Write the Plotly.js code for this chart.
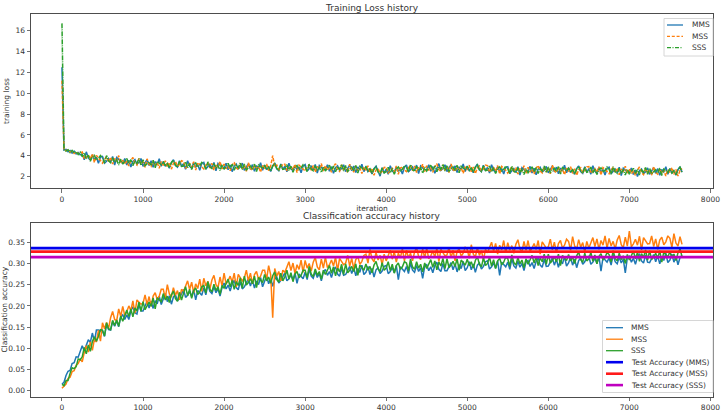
<!DOCTYPE html>
<html>
<head>
<meta charset="utf-8">
<script src="https://cdn.plot.ly/plotly-3.0.1.min.js"></script>
<style>
  html, body { margin: 0; padding: 0; background: #ffffff; }
  #chart { width: 721px; height: 413px; }
</style>
</head>
<body>
<div id="chart"></div>
<script>
// Metrics were logged every ITER_STEP iterations (iteration 0 .. 7650).
const ITER_STEP = 25;

const seriesNames = ['MMS', 'MSS', 'SSS'];

// Training loss per logged iteration
const lossMMS = [
  12.5, 4.55, 4.62, 4.38, 4.50, 4.25, 4.44, 4.18, 4.32, 4.10,
  4.18, 3.61, 4.38, 3.81, 3.60, 4.10, 3.62, 3.86, 3.28, 3.88,
  3.93, 3.30, 3.48, 3.75, 3.39, 3.93, 3.12, 3.84, 3.66, 3.48,
  3.29, 3.74, 3.11, 3.56, 2.93, 3.47, 3.65, 3.20, 3.38, 3.74,
  2.99, 3.35, 3.62, 3.08, 3.53, 2.90, 3.44, 3.17, 3.71, 2.99,
  3.44, 2.99, 3.26, 2.81, 3.35, 3.62, 3.08, 2.90, 3.53, 2.99,
  3.25, 2.71, 3.52, 2.98, 2.80, 3.34, 2.89, 3.16, 2.62, 3.25,
  3.36, 2.73, 2.91, 3.18, 2.82, 3.36, 2.55, 3.27, 3.09, 2.91,
  2.84, 3.29, 2.66, 3.11, 2.48, 3.02, 3.20, 2.75, 2.93, 3.29,
  2.61, 2.97, 3.24, 2.70, 3.15, 2.52, 3.06, 2.79, 3.33, 2.61,
  3.12, 2.67, 2.94, 2.49, 3.03, 3.30, 2.76, 2.58, 3.21, 2.67,
  3.01, 2.47, 3.28, 2.74, 2.56, 3.10, 2.65, 2.92, 2.38, 3.01,
  3.16, 2.53, 2.71, 2.98, 2.62, 3.16, 2.35, 3.07, 2.89, 2.71,
  2.69, 3.14, 2.51, 2.96, 2.33, 2.87, 3.05, 2.60, 2.78, 3.14,
  2.48, 2.84, 3.11, 2.57, 3.02, 2.39, 2.93, 2.66, 3.20, 2.48,
  2.97, 2.50, 2.75, 2.26, 2.76, 3.00, 2.43, 2.05, 2.86, 2.34,
  2.73, 2.22, 3.05, 2.53, 2.37, 2.93, 2.50, 2.79, 2.26, 2.90,
  3.11, 2.48, 2.66, 2.93, 2.57, 3.11, 2.30, 3.02, 2.84, 2.66,
  2.69, 3.14, 2.51, 2.96, 2.33, 2.87, 3.25, 2.60, 2.78, 3.14,
  2.49, 2.85, 3.12, 2.58, 3.03, 2.40, 2.94, 2.67, 3.21, 2.49,
  3.01, 2.56, 2.83, 2.38, 2.92, 3.19, 2.65, 2.47, 3.10, 2.56,
  2.88, 2.34, 3.15, 2.61, 2.43, 2.97, 2.52, 2.79, 2.25, 2.88,
  2.96, 2.33, 2.51, 2.78, 2.42, 2.96, 2.15, 2.87, 2.69, 2.51,
  2.53, 2.98, 2.35, 2.80, 2.17, 2.71, 2.89, 2.44, 2.62, 2.98,
  2.37, 2.73, 3.00, 2.46, 2.91, 2.28, 2.82, 2.55, 3.09, 2.37,
  2.85, 2.40, 2.67, 2.22, 2.76, 3.03, 2.49, 2.31, 2.94, 2.40,
  2.78, 2.24, 3.05, 2.51, 2.33, 2.87, 2.42, 2.69, 2.15, 2.78,
  2.91, 2.28, 2.46, 2.73, 2.37, 2.91, 2.10, 2.82, 2.64, 2.46,
  2.38, 2.83, 2.20, 2.65, 2.02, 2.56, 2.74, 2.29, 2.47, 2.83,
  2.23, 2.59, 2.86, 2.32, 2.77, 2.14, 2.68, 2.41, 2.95, 2.23,
  2.77, 2.32, 2.59, 2.14, 2.68, 2.95, 2.41
];
const lossMSS = [
  11.2, 4.62, 4.48, 4.55, 4.36, 4.47, 4.22, 4.38, 4.20, 4.28,
  4.36, 3.70, 3.84, 4.08, 3.69, 4.19, 3.35, 4.04, 3.82, 3.61,
  3.30, 3.66, 3.93, 3.39, 3.84, 3.21, 3.75, 3.48, 4.02, 3.30,
  3.65, 3.20, 3.47, 3.02, 3.56, 3.83, 3.29, 3.11, 3.74, 3.20,
  3.44, 2.90, 3.71, 3.17, 2.99, 3.53, 3.08, 3.35, 2.81, 3.44,
  3.08, 3.53, 2.90, 3.35, 2.72, 3.26, 3.44, 2.99, 3.17, 3.53,
  3.43, 2.80, 2.98, 3.25, 2.89, 3.43, 2.62, 3.34, 3.16, 2.98,
  2.73, 3.09, 3.36, 2.82, 3.27, 2.64, 3.18, 2.91, 3.45, 2.73,
  3.20, 2.75, 3.02, 2.57, 3.11, 3.38, 2.84, 2.66, 3.29, 2.75,
  3.06, 2.52, 3.33, 2.79, 2.61, 3.15, 2.70, 2.97, 2.43, 3.06,
  2.76, 3.21, 2.58, 3.03, 4.02, 2.94, 3.12, 2.67, 2.85, 3.21,
  3.19, 2.56, 2.74, 3.01, 2.65, 3.19, 2.38, 3.10, 2.92, 2.74,
  2.53, 2.89, 3.16, 2.62, 3.07, 2.44, 2.98, 2.71, 3.25, 2.53,
  3.05, 2.60, 2.87, 2.42, 2.96, 3.23, 2.69, 2.51, 3.14, 2.60,
  2.93, 2.39, 3.20, 2.66, 2.48, 3.02, 2.57, 2.84, 2.30, 2.93,
  2.61, 3.04, 2.39, 2.80, 2.13, 2.64, 2.79, 2.32, 2.50, 2.88,
  2.91, 2.31, 2.51, 2.80, 2.46, 3.02, 2.23, 2.97, 2.80, 2.63,
  2.48, 2.84, 3.11, 2.57, 3.02, 2.39, 2.93, 2.66, 3.20, 2.48,
  3.05, 2.60, 2.87, 2.42, 2.96, 3.23, 2.69, 2.51, 3.14, 2.60,
  2.94, 2.40, 3.21, 2.67, 2.49, 3.03, 2.58, 2.85, 2.31, 2.94,
  2.65, 3.10, 2.47, 2.92, 2.29, 2.83, 3.01, 2.56, 2.74, 3.10,
  3.06, 2.43, 2.61, 2.88, 2.52, 3.06, 2.25, 2.97, 2.79, 2.61,
  2.33, 2.69, 2.96, 2.42, 2.87, 2.24, 2.78, 2.51, 3.05, 2.33,
  2.89, 2.44, 2.71, 2.26, 2.80, 3.07, 2.53, 2.35, 2.98, 2.44,
  2.82, 2.28, 3.09, 2.55, 2.37, 2.91, 2.46, 2.73, 2.19, 2.82,
  2.49, 2.94, 2.31, 2.76, 2.13, 2.67, 2.85, 2.40, 2.58, 2.94,
  2.96, 2.33, 2.51, 2.78, 2.42, 2.96, 2.15, 2.87, 2.69, 2.51,
  2.28, 2.64, 2.91, 2.37, 2.82, 2.19, 2.73, 2.46, 3.00, 2.28,
  2.74, 2.29, 2.56, 2.11, 2.65, 2.92, 2.38, 2.20, 2.83, 2.29,
  2.68, 2.14, 2.95, 2.41, 2.23, 2.77, 2.32, 2.59, 2.05, 2.68,
  2.41, 2.86, 2.23, 2.68, 2.05, 2.59, 2.77
];
const lossSSS = [
  16.7, 4.60, 4.45, 4.58, 4.30, 4.52, 4.28, 4.40, 4.12, 4.35,
  3.92, 4.29, 3.69, 4.06, 3.47, 3.91, 4.04, 3.61, 3.73, 4.02,
  3.81, 3.31, 4.02, 3.52, 3.34, 3.81, 3.39, 3.61, 3.12, 3.66,
  3.21, 3.52, 3.74, 3.25, 3.63, 3.06, 3.52, 3.27, 3.73, 3.08,
  3.62, 3.05, 3.20, 3.43, 3.10, 3.57, 2.84, 3.47, 3.30, 3.14,
  3.44, 3.03, 3.27, 2.87, 3.34, 3.58, 3.09, 2.92, 3.46, 2.98,
  3.02, 3.42, 2.85, 3.25, 2.68, 3.16, 3.31, 2.91, 3.06, 3.37,
  3.19, 2.70, 3.42, 2.94, 2.77, 3.24, 2.84, 3.08, 2.59, 3.14,
  2.71, 3.03, 3.27, 2.78, 3.18, 2.62, 3.09, 2.85, 3.33, 2.68,
  3.22, 2.66, 2.82, 3.05, 2.72, 3.20, 2.49, 3.12, 2.95, 2.79,
  3.09, 2.69, 2.93, 2.53, 3.01, 3.25, 2.77, 2.61, 3.17, 2.69,
  2.75, 3.15, 2.59, 2.99, 2.43, 2.91, 3.07, 2.67, 2.83, 3.15,
  2.96, 2.48, 3.20, 2.72, 2.56, 3.04, 2.64, 2.88, 2.40, 2.96,
  2.54, 2.86, 3.10, 2.62, 3.02, 2.46, 2.94, 2.70, 3.18, 2.54,
  3.07, 2.51, 2.67, 2.91, 2.59, 3.07, 2.35, 2.99, 2.83, 2.67,
  2.94, 2.52, 2.74, 2.30, 2.74, 2.95, 2.44, 2.26, 2.82, 2.36,
  2.47, 2.90, 2.36, 2.78, 2.24, 2.74, 2.92, 2.54, 2.71, 3.04,
  2.91, 2.43, 3.15, 2.67, 2.51, 2.99, 2.59, 2.83, 2.35, 2.91,
  2.54, 2.86, 3.10, 2.62, 3.02, 2.46, 2.94, 2.70, 3.18, 2.54,
  3.08, 2.52, 2.68, 2.92, 2.60, 3.08, 2.36, 3.00, 2.84, 2.68,
  2.98, 2.58, 2.82, 2.42, 2.90, 3.14, 2.66, 2.50, 3.06, 2.58,
  2.62, 3.02, 2.46, 2.86, 2.30, 2.78, 2.94, 2.54, 2.70, 3.02,
  2.76, 2.28, 3.00, 2.52, 2.36, 2.84, 2.44, 2.68, 2.20, 2.76,
  2.38, 2.70, 2.94, 2.46, 2.86, 2.30, 2.78, 2.54, 3.02, 2.38,
  2.96, 2.40, 2.56, 2.80, 2.48, 2.96, 2.24, 2.88, 2.72, 2.56,
  2.82, 2.42, 2.66, 2.26, 2.74, 2.98, 2.50, 2.34, 2.90, 2.42,
  2.52, 2.92, 2.36, 2.76, 2.20, 2.68, 2.84, 2.44, 2.60, 2.92,
  2.71, 2.23, 2.95, 2.47, 2.31, 2.79, 2.39, 2.63, 2.15, 2.71,
  2.23, 2.55, 2.79, 2.31, 2.71, 2.15, 2.63, 2.39, 2.87, 2.23,
  2.82, 2.26, 2.42, 2.66, 2.34, 2.82, 2.10, 2.74, 2.58, 2.42,
  2.74, 2.34, 2.58, 2.18, 2.66, 2.90, 2.42
];

// Training (mini-batch) classification accuracy per logged iteration
const accMMS = [
  0.016, 0.020, 0.036, 0.046, 0.048, 0.064, 0.066, 0.080, 0.079, 0.094,
  0.106, 0.094, 0.105, 0.120, 0.114, 0.136, 0.116, 0.143, 0.143, 0.141,
  0.141, 0.128, 0.157, 0.144, 0.143, 0.163, 0.152, 0.165, 0.151, 0.174,
  0.179, 0.168, 0.179, 0.168, 0.188, 0.198, 0.184, 0.181, 0.203, 0.188,
  0.188, 0.201, 0.211, 0.195, 0.211, 0.194, 0.212, 0.205, 0.223, 0.203,
  0.215, 0.229, 0.210, 0.224, 0.204, 0.221, 0.226, 0.212, 0.218, 0.229,
  0.239, 0.220, 0.225, 0.234, 0.222, 0.239, 0.214, 0.236, 0.231, 0.225,
  0.243, 0.226, 0.251, 0.234, 0.229, 0.245, 0.231, 0.240, 0.223, 0.243,
  0.254, 0.240, 0.249, 0.235, 0.252, 0.260, 0.243, 0.238, 0.257, 0.240,
  0.245, 0.256, 0.264, 0.247, 0.261, 0.242, 0.259, 0.250, 0.267, 0.245,
  0.257, 0.271, 0.252, 0.266, 0.246, 0.263, 0.268, 0.254, 0.260, 0.271,
  0.278, 0.259, 0.264, 0.273, 0.261, 0.278, 0.253, 0.275, 0.270, 0.264,
  0.279, 0.262, 0.287, 0.270, 0.265, 0.281, 0.267, 0.276, 0.259, 0.279,
  0.286, 0.272, 0.281, 0.267, 0.284, 0.292, 0.275, 0.270, 0.289, 0.272,
  0.274, 0.285, 0.293, 0.276, 0.290, 0.271, 0.288, 0.279, 0.296, 0.274,
  0.279, 0.293, 0.274, 0.288, 0.268, 0.285, 0.290, 0.276, 0.282, 0.293,
  0.295, 0.276, 0.281, 0.290, 0.278, 0.295, 0.262, 0.292, 0.287, 0.281,
  0.293, 0.276, 0.301, 0.284, 0.279, 0.295, 0.281, 0.290, 0.265, 0.293,
  0.297, 0.283, 0.292, 0.278, 0.295, 0.303, 0.286, 0.281, 0.300, 0.283,
  0.283, 0.294, 0.302, 0.285, 0.299, 0.280, 0.297, 0.288, 0.305, 0.283,
  0.290, 0.304, 0.285, 0.299, 0.279, 0.296, 0.301, 0.287, 0.293, 0.304,
  0.306, 0.287, 0.292, 0.301, 0.289, 0.306, 0.272, 0.303, 0.298, 0.292,
  0.303, 0.286, 0.311, 0.294, 0.289, 0.305, 0.291, 0.300, 0.283, 0.303,
  0.307, 0.293, 0.302, 0.288, 0.305, 0.313, 0.296, 0.291, 0.310, 0.293,
  0.294, 0.305, 0.313, 0.296, 0.310, 0.291, 0.308, 0.299, 0.316, 0.294,
  0.301, 0.315, 0.296, 0.310, 0.290, 0.307, 0.312, 0.298, 0.304, 0.315,
  0.317, 0.298, 0.303, 0.312, 0.300, 0.317, 0.282, 0.314, 0.309, 0.303,
  0.313, 0.296, 0.321, 0.304, 0.299, 0.315, 0.301, 0.310, 0.278, 0.313,
  0.317, 0.303, 0.312, 0.298, 0.315, 0.323, 0.306, 0.301, 0.320, 0.303,
  0.302, 0.313, 0.321, 0.304, 0.318, 0.299, 0.316, 0.307, 0.324, 0.302,
  0.308, 0.322, 0.303, 0.317, 0.297, 0.314, 0.319
];
const accMSS = [
  0.006, 0.010, 0.016, 0.029, 0.032, 0.045, 0.047, 0.060, 0.064, 0.075,
  0.068, 0.090, 0.106, 0.091, 0.115, 0.095, 0.121, 0.115, 0.142, 0.117,
  0.160, 0.146, 0.161, 0.147, 0.172, 0.187, 0.168, 0.165, 0.193, 0.175,
  0.199, 0.177, 0.186, 0.200, 0.189, 0.212, 0.183, 0.214, 0.210, 0.204,
  0.206, 0.226, 0.203, 0.222, 0.199, 0.223, 0.231, 0.215, 0.223, 0.239,
  0.239, 0.218, 0.250, 0.228, 0.221, 0.243, 0.225, 0.236, 0.214, 0.239,
  0.234, 0.249, 0.259, 0.238, 0.256, 0.231, 0.252, 0.241, 0.263, 0.234,
  0.265, 0.247, 0.258, 0.240, 0.261, 0.272, 0.250, 0.243, 0.268, 0.247,
  0.277, 0.252, 0.259, 0.270, 0.256, 0.277, 0.245, 0.274, 0.267, 0.259,
  0.266, 0.284, 0.259, 0.277, 0.252, 0.274, 0.281, 0.263, 0.270, 0.284,
  0.284, 0.263, 0.295, 0.273, 0.172, 0.288, 0.270, 0.281, 0.259, 0.284,
  0.279, 0.294, 0.304, 0.283, 0.301, 0.276, 0.297, 0.286, 0.308, 0.279,
  0.307, 0.289, 0.300, 0.282, 0.303, 0.314, 0.292, 0.285, 0.310, 0.289,
  0.315, 0.290, 0.297, 0.308, 0.294, 0.315, 0.283, 0.312, 0.305, 0.297,
  0.301, 0.319, 0.294, 0.312, 0.287, 0.309, 0.316, 0.298, 0.305, 0.319,
  0.322, 0.301, 0.333, 0.311, 0.304, 0.326, 0.308, 0.319, 0.297, 0.322,
  0.306, 0.321, 0.331, 0.310, 0.328, 0.303, 0.324, 0.313, 0.335, 0.306,
  0.331, 0.313, 0.324, 0.306, 0.327, 0.338, 0.316, 0.309, 0.334, 0.313,
  0.336, 0.311, 0.318, 0.329, 0.315, 0.336, 0.304, 0.333, 0.326, 0.318,
  0.320, 0.338, 0.313, 0.331, 0.306, 0.328, 0.335, 0.317, 0.324, 0.338,
  0.333, 0.312, 0.344, 0.322, 0.315, 0.337, 0.319, 0.330, 0.308, 0.333,
  0.325, 0.340, 0.350, 0.329, 0.347, 0.322, 0.343, 0.332, 0.354, 0.325,
  0.349, 0.331, 0.342, 0.324, 0.345, 0.356, 0.334, 0.327, 0.352, 0.331,
  0.354, 0.329, 0.336, 0.347, 0.333, 0.354, 0.322, 0.351, 0.344, 0.336,
  0.339, 0.357, 0.332, 0.350, 0.325, 0.347, 0.354, 0.336, 0.343, 0.357,
  0.352, 0.331, 0.363, 0.341, 0.334, 0.356, 0.338, 0.349, 0.327, 0.352,
  0.336, 0.351, 0.361, 0.340, 0.358, 0.333, 0.354, 0.343, 0.365, 0.336,
  0.359, 0.341, 0.352, 0.334, 0.355, 0.366, 0.344, 0.337, 0.362, 0.341,
  0.376, 0.339, 0.346, 0.357, 0.343, 0.364, 0.332, 0.361, 0.354, 0.346,
  0.347, 0.365, 0.340, 0.358, 0.333, 0.355, 0.362, 0.344, 0.351, 0.365,
  0.359, 0.338, 0.370, 0.348, 0.341, 0.363, 0.345
];
const accSSS = [
  0.015, 0.012, 0.024, 0.024, 0.041, 0.054, 0.052, 0.057, 0.075, 0.073,
  0.080, 0.102, 0.087, 0.108, 0.093, 0.116, 0.127, 0.117, 0.128, 0.144,
  0.143, 0.129, 0.160, 0.146, 0.144, 0.166, 0.154, 0.167, 0.152, 0.176,
  0.164, 0.179, 0.190, 0.175, 0.193, 0.174, 0.195, 0.188, 0.209, 0.187,
  0.210, 0.191, 0.199, 0.209, 0.199, 0.219, 0.193, 0.219, 0.214, 0.210,
  0.229, 0.214, 0.223, 0.208, 0.226, 0.235, 0.217, 0.211, 0.232, 0.214,
  0.230, 0.245, 0.224, 0.239, 0.218, 0.236, 0.242, 0.227, 0.233, 0.245,
  0.248, 0.230, 0.257, 0.239, 0.233, 0.251, 0.236, 0.245, 0.227, 0.248,
  0.242, 0.254, 0.263, 0.245, 0.260, 0.239, 0.257, 0.248, 0.266, 0.242,
  0.270, 0.249, 0.255, 0.264, 0.252, 0.270, 0.243, 0.267, 0.261, 0.255,
  0.274, 0.259, 0.268, 0.253, 0.271, 0.280, 0.262, 0.256, 0.277, 0.259,
  0.269, 0.284, 0.263, 0.278, 0.257, 0.275, 0.281, 0.266, 0.272, 0.284,
  0.284, 0.266, 0.293, 0.275, 0.269, 0.287, 0.272, 0.281, 0.263, 0.284,
  0.274, 0.286, 0.295, 0.277, 0.292, 0.271, 0.289, 0.280, 0.298, 0.274,
  0.299, 0.278, 0.284, 0.293, 0.281, 0.299, 0.272, 0.296, 0.290, 0.284,
  0.299, 0.284, 0.293, 0.278, 0.296, 0.305, 0.287, 0.281, 0.302, 0.284,
  0.289, 0.304, 0.283, 0.298, 0.277, 0.295, 0.301, 0.286, 0.292, 0.304,
  0.301, 0.283, 0.310, 0.292, 0.286, 0.304, 0.289, 0.298, 0.280, 0.301,
  0.288, 0.300, 0.309, 0.291, 0.306, 0.285, 0.303, 0.294, 0.312, 0.288,
  0.311, 0.290, 0.296, 0.305, 0.293, 0.311, 0.284, 0.308, 0.302, 0.296,
  0.310, 0.295, 0.304, 0.289, 0.307, 0.316, 0.298, 0.292, 0.313, 0.295,
  0.300, 0.315, 0.294, 0.309, 0.288, 0.306, 0.312, 0.297, 0.303, 0.315,
  0.311, 0.293, 0.320, 0.302, 0.296, 0.314, 0.299, 0.308, 0.290, 0.311,
  0.298, 0.310, 0.319, 0.301, 0.316, 0.295, 0.313, 0.304, 0.322, 0.298,
  0.322, 0.301, 0.307, 0.316, 0.304, 0.322, 0.295, 0.319, 0.313, 0.307,
  0.321, 0.306, 0.315, 0.300, 0.318, 0.327, 0.309, 0.303, 0.324, 0.306,
  0.311, 0.326, 0.305, 0.320, 0.299, 0.317, 0.323, 0.308, 0.314, 0.326,
  0.321, 0.303, 0.330, 0.312, 0.306, 0.324, 0.309, 0.318, 0.300, 0.321,
  0.308, 0.320, 0.329, 0.311, 0.326, 0.305, 0.323, 0.314, 0.332, 0.308,
  0.330, 0.309, 0.315, 0.324, 0.312, 0.330, 0.303, 0.327, 0.321, 0.315,
  0.328, 0.313, 0.322, 0.307, 0.325, 0.334, 0.316
];

// Held-out test accuracy of each model
const testNames = ['Test Accuracy (MMS)', 'Test Accuracy (MSS)', 'Test Accuracy (SSS)'];
const testAcc = [0.336, 0.328, 0.315];

const lossTicks = [2, 4, 6, 8, 10, 12, 14, 16];
const accTicks = [0.00, 0.05, 0.10, 0.15, 0.20, 0.25, 0.30, 0.35];
const iterTicks = [0, 1000, 2000, 3000, 4000, 5000, 6000, 7000, 8000];

// ---- styling ----
const W = 721, H = 413;
const px = x => x / W;          // pixel column -> paper x
const py = y => 1 - y / H;      // pixel row -> paper y

const seriesColors = ['#1f77b4', '#ff7f0e', '#2ca02c'];
const lossDash = ['solid', '3.5px,1.5px', '5px,1px,1px,1px'];
const legendDash = ['solid', '3px,1.8px', '4px,1.5px,1px,1.5px'];
const testColors = ['#0000ee', '#ff1a1a', '#bf00bf'];
const FONT = 'DejaVu Sans, Verdana, sans-serif';
const TEXT = '#333333';
const X_RANGE = [-382, 8032];

const iters = lossMMS.map((_, i) => i * ITER_STEP);
const lossSeries = [lossMMS, lossMSS, lossSSS];
const accSeries = [accMMS, accMSS, accSSS];

const traces = [];
lossSeries.forEach((ys, k) => traces.push({
  type: 'scatter', mode: 'lines', name: seriesNames[k],
  x: iters, y: ys, xaxis: 'x', yaxis: 'y', showlegend: false,
  line: { color: seriesColors[k], width: 1.5, dash: lossDash[k] },
  hoverinfo: 'skip'
}));
accSeries.forEach((ys, k) => traces.push({
  type: 'scatter', mode: 'lines', name: seriesNames[k],
  x: iters, y: ys, xaxis: 'x2', yaxis: 'y2', showlegend: false,
  line: { color: seriesColors[k], width: 1.5 },
  hoverinfo: 'skip'
}));
testAcc.forEach((v, k) => traces.push({
  type: 'scatter', mode: 'lines', name: testNames[k],
  x: X_RANGE, y: [v, v], xaxis: 'x2', yaxis: 'y2', showlegend: false,
  line: { color: testColors[k], width: 2.7 },
  hoverinfo: 'skip'
}));

// ---- hand-built legends (short line samples, matplotlib-like) ----
const shapes = [];
const annotations = [];
function legendBox(x0, y0, x1, y1) {
  shapes.push({
    type: 'rect', xref: 'paper', yref: 'paper',
    x0: px(x0), x1: px(x1), y0: py(y1), y1: py(y0),
    line: { color: '#d6d6d6', width: 1 }, fillcolor: 'rgba(255,255,255,0.85)', layer: 'above'
  });
}
function legendItem(xLine0, xLine1, xText, yRow, label, color, dash, width) {
  shapes.push({
    type: 'line', xref: 'paper', yref: 'paper',
    x0: px(xLine0), x1: px(xLine1), y0: py(yRow), y1: py(yRow),
    line: { color: color, width: width, dash: dash }, layer: 'above'
  });
  annotations.push({
    xref: 'paper', yref: 'paper', x: px(xText), y: py(yRow),
    xanchor: 'left', yanchor: 'middle', showarrow: false,
    text: label, font: { family: FONT, size: 7.5, color: TEXT }
  });
}

legendBox(664, 18.5, 713, 56);
[25, 36.3, 47.7].forEach((yr, k) =>
  legendItem(667, 683, 689.5, yr, seriesNames[k], seriesColors[k], legendDash[k], 1.3));

legendBox(602.5, 320.5, 713, 392.5);
[327.7, 339.2, 350.7].forEach((yr, k) =>
  legendItem(606, 623, 628.5, yr, seriesNames[k], seriesColors[k], 'solid', 1.3));
[362.2, 373.7, 385.1].forEach((yr, k) =>
  legendItem(606, 623, 628.5, yr, testNames[k], testColors[k], 'solid', 2.6));

// Second subplot title
annotations.push({
  xref: 'paper', yref: 'paper', x: px(372), y: py(215.5),
  xanchor: 'center', yanchor: 'middle', showarrow: false,
  text: 'Classification accuracy history', font: { family: FONT, size: 9, color: TEXT }
});

const axisCommon = {
  showline: true, mirror: true, linecolor: '#4d4d4d', linewidth: 1,
  showgrid: false, zeroline: false,
  ticks: 'outside', ticklen: 3.5, tickwidth: 0.8, tickcolor: '#4d4d4d',
  tickfont: { family: FONT, size: 7.5, color: TEXT },
  automargin: false
};

const layout = {
  width: W, height: H,
  margin: { l: 0, r: 0, t: 0, b: 0 },
  paper_bgcolor: '#ffffff', plot_bgcolor: '#ffffff',
  font: { family: FONT, color: TEXT },
  title: {
    text: 'Training Loss history', font: { family: FONT, size: 9, color: TEXT },
    x: px(372), xanchor: 'center', y: py(7.5), yanchor: 'middle'
  },
  showlegend: false,
  xaxis: Object.assign({}, axisCommon, {
    domain: [px(31), px(713)], anchor: 'y', range: X_RANGE, tickvals: iterTicks,
    title: { text: 'iteration', font: { family: FONT, size: 7.5, color: TEXT }, standoff: 2 }
  }),
  yaxis: Object.assign({}, axisCommon, {
    domain: [py(188), py(14)], anchor: 'x', range: [0.91, 17.6], tickvals: lossTicks,
    title: { text: 'training loss', font: { family: FONT, size: 7.5, color: TEXT }, standoff: 4 }
  }),
  xaxis2: Object.assign({}, axisCommon, {
    domain: [px(31), px(713)], anchor: 'y2', range: X_RANGE, tickvals: iterTicks
  }),
  yaxis2: Object.assign({}, axisCommon, {
    domain: [py(396.7), py(222.7)], anchor: 'x2', range: [-0.014, 0.396],
    tickvals: accTicks, tickformat: '.2f',
    title: { text: 'Classification accuracy', font: { family: FONT, size: 7.5, color: TEXT }, standoff: 9 }
  }),
  shapes: shapes,
  annotations: annotations
};

Plotly.newPlot('chart', traces, layout, { displayModeBar: false, staticPlot: true });
</script>
</body>
</html>
